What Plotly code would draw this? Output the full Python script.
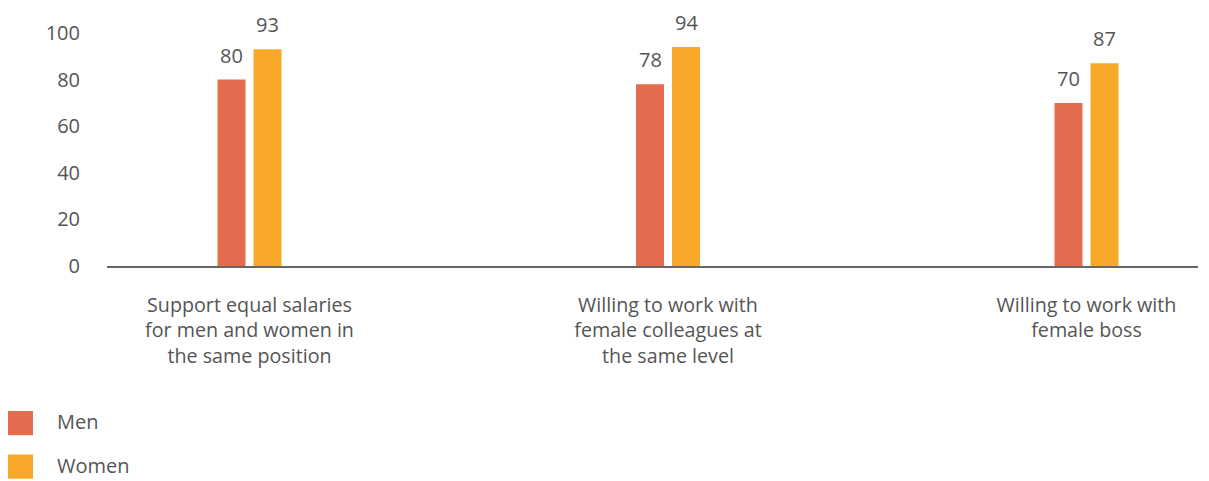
import plotly.graph_objects as go

# Data
categories = [
    "Support equal salaries<br>for men and women in<br>the same position",
    "Willing to work with<br>female colleagues at<br>the same level",
    "Willing to work with<br>female boss",
]
series_names = ["Men", "Women"]
men_values = [80, 78, 70]
women_values = [93, 94, 87]
y_ticks = [0, 20, 40, 60, 80, 100]

COLORS = ["#E46C4E", "#F9A929"]
TEXT_COLOR = "#555555"
FONT = "Open Sans, Lato, sans-serif"

# Figure size (page body adds an 8px margin) and plot area in pixels
W, H = 1201, 473
M_L, M_R, M_T, M_B = 99, 11, 17, 215
PLOT_W = W - M_L - M_R
PLOT_H = H - M_T - M_B

X_RANGE = [-0.3405, 2.2664]
UNIT_PX = PLOT_W / (X_RANGE[1] - X_RANGE[0])  # pixels per category step

BAR_PX = 28
BAR_OFFSETS_PX = [-32, 4]   # left edge of each bar relative to category centre
LABEL_SHIFT_PX = [-18, 18]  # centre of each bar relative to category centre


def px_to_paper(x, y):
    return (x - M_L) / PLOT_W, (H - M_B - y) / PLOT_H


fig = go.Figure()
xs = list(range(len(categories)))
for name, vals, color, off in zip(series_names, [men_values, women_values], COLORS, BAR_OFFSETS_PX):
    fig.add_trace(go.Bar(
        name=name,
        x=xs,
        y=vals,
        width=BAR_PX / UNIT_PX,
        offset=off / UNIT_PX,
        marker=dict(color=color, line=dict(width=0)),
        showlegend=False,
        hoverinfo="y+name",
    ))

annotations = []
# Value labels above each bar
for vals, shift in zip([men_values, women_values], LABEL_SHIFT_PX):
    for x, v in zip(xs, vals):
        annotations.append(dict(
            x=x, y=v, text=str(v), xref="x", yref="y",
            xshift=shift, yshift=9, xanchor="center", yanchor="bottom",
            showarrow=False,
            font=dict(size=20, color=TEXT_COLOR, family=FONT),
        ))

# Legend drawn as large swatches, like the original
shapes = []
for i, (name, color) in enumerate(zip(series_names, COLORS)):
    top = 408 + i * 45
    x0, y1 = px_to_paper(0, top)
    x1, y0 = px_to_paper(25, top + 25)
    shapes.append(dict(type="rect", xref="paper", yref="paper",
                       x0=x0, x1=x1, y0=y0, y1=y1,
                       fillcolor=color, line=dict(width=0)))
    tx, ty = px_to_paper(47, top + 11)
    annotations.append(dict(text=name, xref="paper", yref="paper",
                            x=tx, y=ty, xanchor="left", yanchor="middle",
                            showarrow=False,
                            font=dict(size=20, color=TEXT_COLOR, family=FONT)))

fig.update_layout(
    width=W,
    height=H,
    margin=dict(l=M_L, r=M_R, t=M_T, b=M_B),
    paper_bgcolor="white",
    plot_bgcolor="white",
    barmode="overlay",
    font=dict(family=FONT, size=20, color=TEXT_COLOR),
    shapes=shapes,
    annotations=annotations,
    showlegend=False,
)
fig.update_xaxes(
    tickmode="array",
    tickvals=xs,
    ticktext=categories,
    range=X_RANGE,
    showgrid=False,
    zeroline=False,
    showline=True,
    linecolor="#666666",
    linewidth=2,
    ticks="",
    ticklabelstandoff=20,
    tickfont=dict(size=19.7, color=TEXT_COLOR),
)
fig.update_yaxes(
    range=[0, 100],
    tickvals=y_ticks,
    showgrid=False,
    zeroline=False,
    showline=False,
    ticks="",
    ticklabelstandoff=26,
    tickfont=dict(size=20, color=TEXT_COLOR),
)

fig.write_html("out.html")
